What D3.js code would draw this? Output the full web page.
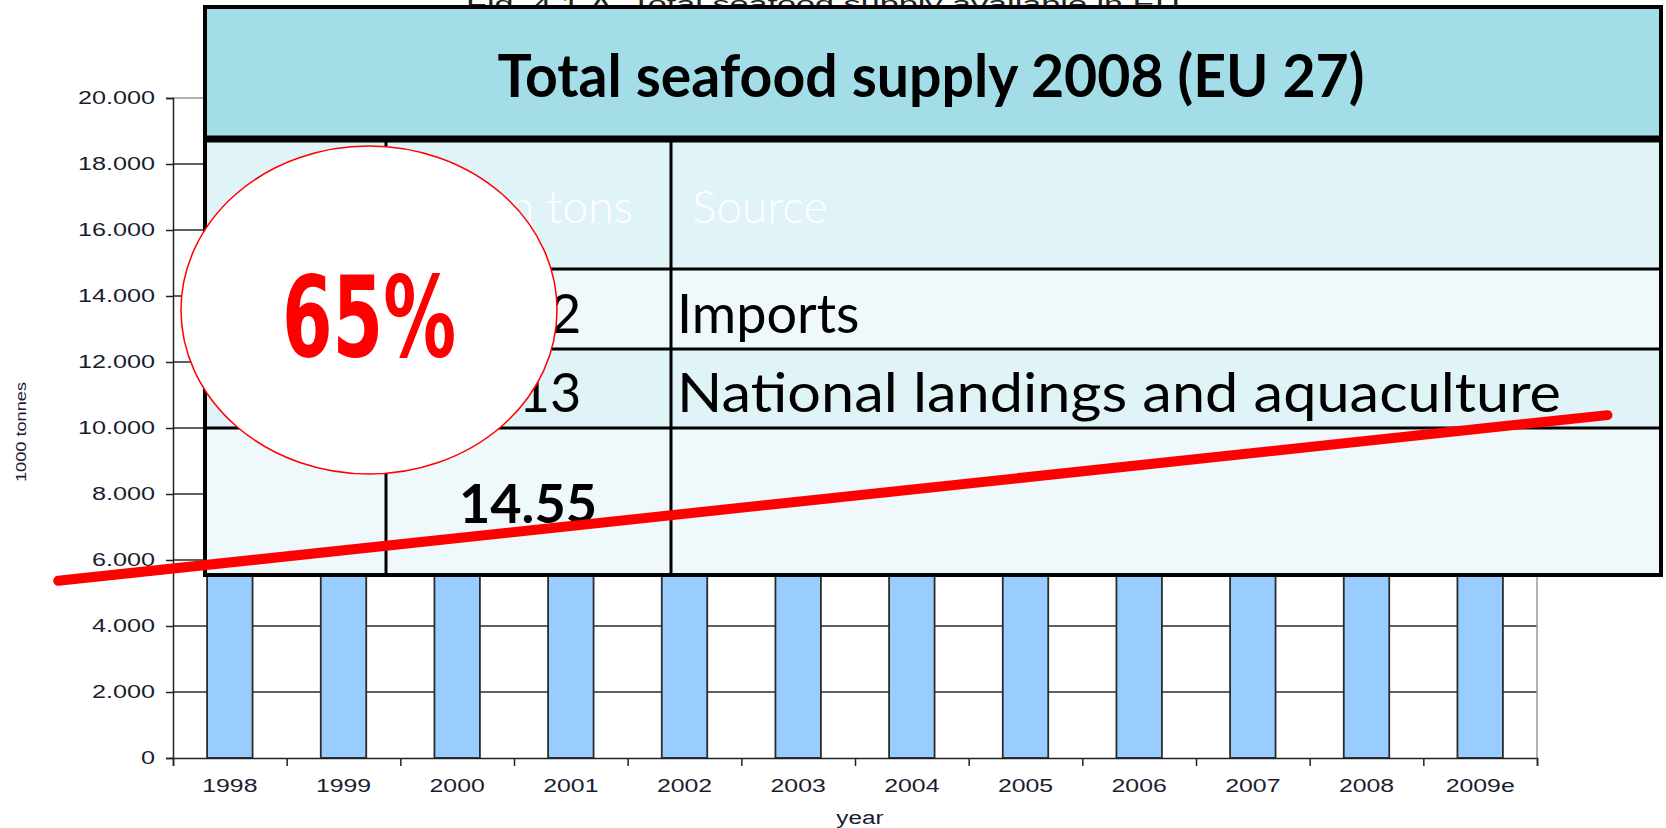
<!DOCTYPE html>
<html>
<head>
<meta charset="utf-8">
<script src="https://cdn.jsdelivr.net/npm/d3@7"></script>
<style>
  body { margin: 0; background: #fff; }
  svg { display: block; }
</style>
</head>
<body>
<svg width="1666" height="828"></svg>
<script>
'use strict';

// chart data (1000 tonnes) - bars sit mostly behind the table overlay
const years = ['1998', '1999', '2000', '2001', '2002', '2003', '2004', '2005', '2006', '2007', '2008', '2009e'];
const supply = [12800, 12900, 13100, 13300, 13500, 13600, 13900, 14100, 14400, 14600, 14550, 14300];
const yTicks = [0, 2000, 4000, 6000, 8000, 10000, 12000, 14000, 16000, 18000, 20000];
const figTitle = 'Fig. 4.1.A. Total seafood supply available in EU';

// overlay table
const tableTitle = 'Total seafood supply 2008 (EU 27)';
const tableHeads = ['Million tons', 'Source'];
const tableNums = ['9.42', '5.13', '14.55'];
const tableSources = ['Imports', 'National landings and aquaculture', ''];
const shareLabel = '65%';
// red trend stroke, in [bar index, 1000 tonnes]
const trendLine = [[-1.01, 5370], [12.62, 10390]];

const svg = d3.select('svg');
const plotL = 173, plotR = 1537, plotT = 98, plotB = 758;

const x = d3.scaleBand().domain(years).range([plotL, plotR]).paddingInner(0.6).paddingOuter(0.3);
const xIdx = d3.scaleLinear().domain([0, years.length]).range([plotL, plotR]);
const y = d3.scaleLinear().domain([0, 20000]).range([plotB, plotT]);
const fmt = d3.formatLocale({ decimal: ',', thousands: '.', grouping: [3], currency: ['', ''] }).format(',');

function stretch(sel, k) {
  sel.each(function() {
    const w = this.getComputedTextLength();
    this.setAttribute('textLength', w * k);
    this.setAttribute('lengthAdjust', 'spacingAndGlyphs');
  });
}

// figure title (mostly hidden by the table)
svg.append('text')
  .attr('x', 823).attr('y', 11)
  .attr('text-anchor', 'middle')
  .attr('font-family', 'Liberation Sans, Arial, sans-serif')
  .attr('font-size', 20)
  .attr('fill', '#222')
  .attr('textLength', 714).attr('lengthAdjust', 'spacingAndGlyphs')
  .text(figTitle);

// gridlines
svg.append('g')
  .selectAll('line')
  .data(yTicks.filter(t => t > 0 && t < 20000))
  .join('line')
  .attr('x1', plotL).attr('x2', plotR)
  .attr('y1', d => y(d)).attr('y2', d => y(d))
  .attr('stroke', '#2b2b2b').attr('stroke-width', 1.5);

// plot border (top / right)
svg.append('path')
  .attr('d', `M${plotL},${y(20000)}H${plotR}V${plotB}`)
  .attr('fill', 'none').attr('stroke', '#999').attr('stroke-width', 1.5);

// bars
svg.append('g')
  .selectAll('rect')
  .data(supply)
  .join('rect')
  .attr('x', (d, i) => x(years[i]))
  .attr('width', x.bandwidth())
  .attr('y', d => y(d))
  .attr('height', d => y(0) - y(d))
  .attr('fill', '#99CCFF')
  .attr('stroke', '#2b2b2b').attr('stroke-width', 1.8);

// y axis
const yAxis = svg.append('g')
  .attr('transform', `translate(${plotL},0)`)
  .call(d3.axisLeft(y).tickValues(yTicks).tickSize(7).tickPadding(11).tickFormat(fmt));
yAxis.select('.domain').attr('stroke', '#222').attr('stroke-width', 1.5);
yAxis.selectAll('.tick line').attr('stroke', '#222').attr('stroke-width', 1.5);
yAxis.selectAll('text')
  .attr('font-family', 'Liberation Sans, Arial, sans-serif')
  .attr('font-size', 18)
  .attr('fill', '#1c1c30')
  .call(stretch, 1.4);

// x axis: ticks between categories, labels centred
const xTicks = svg.append('g')
  .attr('transform', `translate(0,${plotB})`)
  .call(d3.axisBottom(xIdx).tickValues(d3.range(years.length + 1)).tickSize(8).tickFormat(''));
xTicks.select('.domain').attr('stroke', '#222').attr('stroke-width', 1.5);
xTicks.selectAll('.tick line').attr('stroke', '#222').attr('stroke-width', 1.5);

const xLabels = svg.append('g')
  .attr('transform', `translate(0,${plotB})`)
  .call(d3.axisBottom(x).tickSize(0).tickPadding(21));
xLabels.select('.domain').remove();
xLabels.selectAll('text')
  .attr('font-family', 'Liberation Sans, Arial, sans-serif')
  .attr('font-size', 18)
  .attr('fill', '#1c1c30')
  .call(stretch, 1.38);

// axis titles
svg.append('text')
  .attr('x', 860).attr('y', 824)
  .attr('text-anchor', 'middle')
  .attr('font-family', 'Liberation Sans, Arial, sans-serif')
  .attr('font-size', 18)
  .attr('fill', '#1c1c30')
  .text('year')
  .call(stretch, 1.35);

svg.append('text')
  .attr('transform', 'translate(26,432) rotate(-90)')
  .attr('text-anchor', 'middle')
  .attr('font-family', 'Liberation Sans, Arial, sans-serif')
  .attr('font-size', 15)
  .attr('fill', '#1c1c30')
  .attr('textLength', 100).attr('lengthAdjust', 'spacingAndGlyphs')
  .text('1000 tonnes');

// table overlay
const tX = [205, 386, 671, 1661];
const tY = [7, 139, 269, 349, 428, 575];
const table = svg.append('g');
const fills = ['#A3DEE8', '#E0F3F7', '#EFF8FB', '#E0F3F7', '#EFF8FB'];
table.selectAll('rect.row')
  .data(fills)
  .join('rect')
  .attr('class', 'row')
  .attr('x', tX[0]).attr('width', tX[3] - tX[0])
  .attr('y', (d, i) => tY[i]).attr('height', (d, i) => tY[i + 1] - tY[i])
  .attr('fill', d => d);

table.selectAll('line.h')
  .data(tY.slice(2, 5))
  .join('line')
  .attr('class', 'h')
  .attr('x1', tX[0]).attr('x2', tX[3])
  .attr('y1', d => d).attr('y2', d => d)
  .attr('stroke', '#000').attr('stroke-width', 3);

table.selectAll('line.v')
  .data(tX.slice(1, 3))
  .join('line')
  .attr('class', 'v')
  .attr('x1', d => d).attr('x2', d => d)
  .attr('y1', tY[1]).attr('y2', tY[5])
  .attr('stroke', '#000').attr('stroke-width', 3);

table.append('line')
  .attr('x1', tX[0]).attr('x2', tX[3])
  .attr('y1', tY[1]).attr('y2', tY[1])
  .attr('stroke', '#000').attr('stroke-width', 7);

table.append('rect')
  .attr('x', tX[0]).attr('y', tY[0])
  .attr('width', tX[3] - tX[0]).attr('height', tY[5] - tY[0])
  .attr('fill', 'none').attr('stroke', '#000').attr('stroke-width', 4);

table.append('text')
  .attr('x', 931).attr('y', 97)
  .attr('text-anchor', 'middle')
  .attr('font-family', 'Lato, sans-serif')
  .attr('font-weight', 'bold')
  .attr('font-size', 60)
  .attr('textLength', 867).attr('lengthAdjust', 'spacingAndGlyphs')
  .text(tableTitle);

table.append('text')
  .attr('x', 633).attr('y', 223)
  .attr('text-anchor', 'end')
  .attr('font-family', 'Lato, sans-serif')
  .attr('font-weight', 300)
  .attr('font-size', 46)
  .attr('fill', '#fff')
  .text(tableHeads[0]);

table.append('text')
  .attr('x', 692).attr('y', 223)
  .attr('font-family', 'Lato, sans-serif')
  .attr('font-weight', 300)
  .attr('font-size', 46)
  .attr('fill', '#fff')
  .text(tableHeads[1]);

const baselines = [333, 412, 523];
table.selectAll('text.num')
  .data(tableNums)
  .join('text')
  .attr('class', 'num')
  .attr('x', 528).attr('y', (d, i) => baselines[i])
  .attr('text-anchor', 'middle')
  .attr('font-family', 'Lato, sans-serif')
  .attr('font-weight', (d, i) => i === 2 ? 'bold' : 'normal')
  .attr('font-size', 54)
  .attr('fill', '#000')
  .text(d => d);

table.selectAll('text.src')
  .data(tableSources)
  .join('text')
  .attr('class', 'src')
  .attr('x', 677).attr('y', (d, i) => baselines[i])
  .attr('font-family', 'Lato, sans-serif')
  .attr('font-size', 54)
  .attr('fill', '#000')
  .text(d => d)
  .each(function(d) {
    if (d.length > 20) {
      this.setAttribute('textLength', 884);
      this.setAttribute('lengthAdjust', 'spacingAndGlyphs');
    }
  });

// share bubble
svg.append('ellipse')
  .attr('cx', 369).attr('cy', 310)
  .attr('rx', 188).attr('ry', 164)
  .attr('fill', '#fff')
  .attr('stroke', '#f00').attr('stroke-width', 1.5);

svg.append('text')
  .attr('x', 369).attr('y', 356)
  .attr('text-anchor', 'middle')
  .attr('font-family', 'DejaVu Sans, sans-serif')
  .attr('font-weight', 'bold')
  .attr('font-size', 112)
  .attr('fill', '#f00')
  .attr('textLength', 174).attr('lengthAdjust', 'spacingAndGlyphs')
  .text(shareLabel);

// red trend stroke
svg.append('path')
  .datum(trendLine)
  .attr('d', d3.line().x(d => xIdx(d[0])).y(d => y(d[1])))
  .attr('fill', 'none')
  .attr('stroke', '#f00')
  .attr('stroke-width', 10)
  .attr('stroke-linecap', 'round');
</script>
</body>
</html>
